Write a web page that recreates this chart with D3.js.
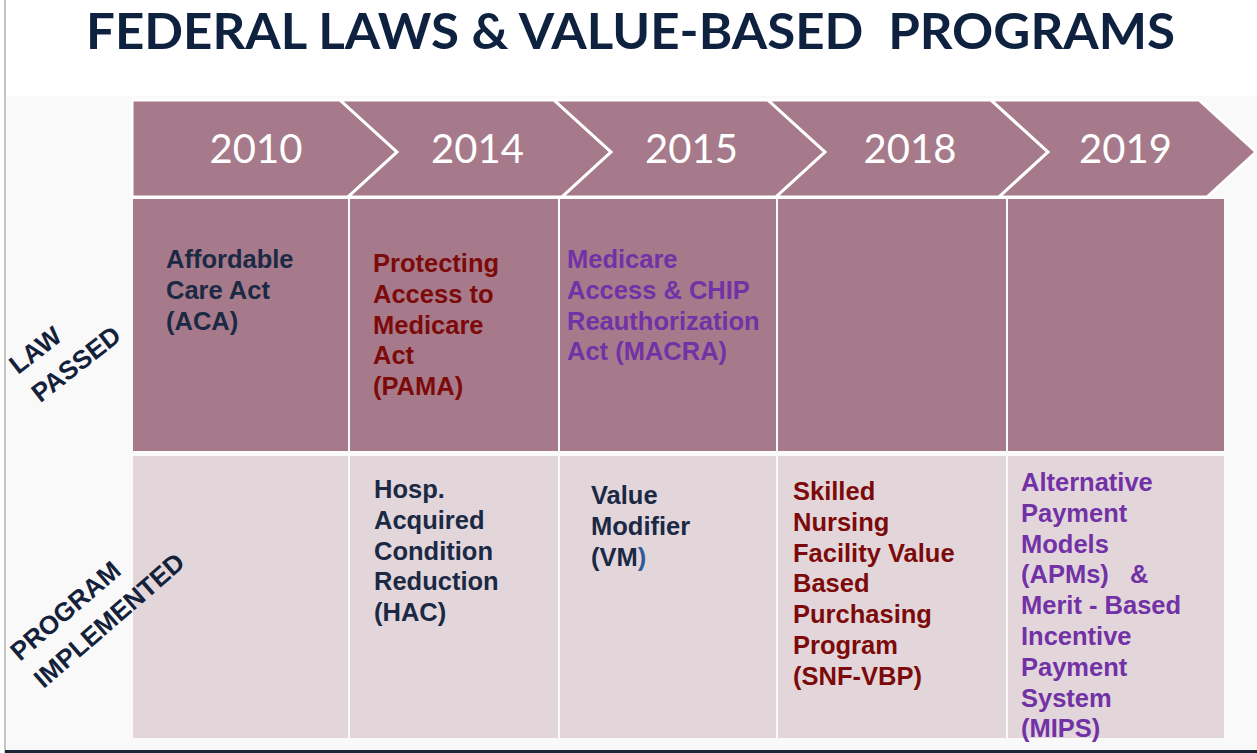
<!DOCTYPE html>
<html>
<head>
<meta charset="utf-8">
<script src="https://cdn.jsdelivr.net/npm/d3@7"></script>
<style>
    body { margin: 0; background: #fff; }
    svg { display: block; }
    .cell-text { font-family: "Liberation Sans", Arial, sans-serif; font-weight: bold; font-size: 25.5px; white-space: pre; }
    .side-label { font-family: "Liberation Sans", Arial, sans-serif; font-weight: bold; font-size: 26px; fill: #14213a; }
    .year { font-family: Lato, "Open Sans", sans-serif; font-size: 40px; fill: #fff; }
    .title { font-family: Lato, "Open Sans", sans-serif; font-weight: bold; font-size: 49.5px; fill: #0e2240; }
</style>
</head>
<body>
<svg id="chart" width="1257" height="753"></svg>
<script>

/*****************************************
*   Data
*****************************************/

const TITLE = 'FEDERAL LAWS & VALUE-BASED  PROGRAMS';

const years = ['2010', '2014', '2015', '2018', '2019'];
const rows = ['law', 'program'];
const rowLabels = [['LAW', 'PASSED'], ['PROGRAM', 'IMPLEMENTED']];

const lawsPassed = [
    ['Affordable', 'Care Act', '(ACA)'],
    ['Protecting', 'Access to', 'Medicare', 'Act', '(PAMA)'],
    ['Medicare', 'Access & CHIP', 'Reauthorization', 'Act (MACRA)'],
    [],
    []
];

const programsImplemented = [
    [],
    ['Hosp.', 'Acquired', 'Condition', 'Reduction', '(HAC)'],
    ['Value', 'Modifier', '(VM)'],
    ['Skilled', 'Nursing', 'Facility Value', 'Based', 'Purchasing', 'Program', '(SNF-VBP)'],
    ['Alternative', 'Payment', 'Models', '(APMs)   &', 'Merit - Based', 'Incentive', 'Payment', 'System', '(MIPS)']
];

/*****************************************
*   Layout / style constants
*****************************************/

const SVG_WIDTH = 1257;
const SVG_HEIGHT = 753;

// column edges (cells are not all the same width)
const COL_LEFT = [132, 349, 559, 777, 1007];
const COL_RIGHT = [349, 559, 777, 1007, 1225];
// where each chevron's right edge sits, and how far the point sticks out
const NOTCH = [344, 558, 772, 995, 1203];
const POINT = 53;
const SKEW = 4;

const BAND_TOP = 100;
const BAND_MID = 152;
const BAND_BOTTOM = 197;
const ROW_TOP = [199, 456];
const ROW_BOTTOM = [451, 738];

const LINE_HEIGHT = 30.8;
// per cell: left inset and first baseline offset from row top
const TEXT_INSET = { law: [34, 24, 8, 0, 0], program: [0, 25, 32, 16, 14] };
const TEXT_TOP = { law: [69, 73, 69, 0, 0], program: [0, 42, 48, 44, 35] };

const NAVY = '#1b2944';
const DARK_RED = '#7d0a0a';
const PURPLE = '#7232a6';
const TEXT_COLOR = {
    law: [NAVY, DARK_RED, PURPLE, NAVY, NAVY],
    program: [NAVY, NAVY, NAVY, DARK_RED, PURPLE]
};
const ROW_FILL = { law: '#a67a8a', program: '#e2d6db' };
const BAND_FILL = '#a67a8a';

// start of first line and tilt of the two row labels
const LABEL_ANCHOR = [[18, 375, -38], [20, 662, -41]];
const LABEL_LINE = 36;

/*****************************************
*   Scales
*****************************************/

var xLeft = d3.scaleOrdinal().domain(years).range(COL_LEFT);
var xRight = d3.scaleOrdinal().domain(years).range(COL_RIGHT);
var xNotch = d3.scaleOrdinal().domain(years).range(NOTCH);
var yTop = d3.scaleOrdinal().domain(rows).range(ROW_TOP);
var yBottom = d3.scaleOrdinal().domain(rows).range(ROW_BOTTOM);

var svg = d3.select('#chart');

/*****************************************
*   Background
*****************************************/

svg.append('rect')
    .attr('x', 7).attr('y', 96)
    .attr('width', SVG_WIDTH - 7).attr('height', 654)
    .attr('fill', '#f9f9f9');

svg.append('line')
    .attr('x1', 5).attr('x2', 5)
    .attr('y1', 0).attr('y2', SVG_HEIGHT)
    .attr('stroke', '#c4c4c4')
    .attr('stroke-width', 2);

svg.append('line')
    .attr('x1', 5).attr('x2', SVG_WIDTH)
    .attr('y1', 751.5).attr('y2', 751.5)
    .attr('stroke', '#1c2636')
    .attr('stroke-width', 3);

svg.append('text')
    .attr('class', 'title')
    .attr('x', 86)
    .attr('y', 49)
    .attr('textLength', 1089)
    .attr('lengthAdjust', 'spacingAndGlyphs')
    .style('white-space', 'pre')
    .text(TITLE);

/*****************************************
*   Chevron band with years
*****************************************/

function chevron_points(year, i) {
    var right = xNotch(year);
    var pts = [];
    if (i == 0) {
        pts.push([xLeft(year), BAND_TOP]);
    } else {
        var left = xNotch(years[i - 1]);
        pts.push([left - SKEW, BAND_TOP]);
    }
    pts.push([right - SKEW, BAND_TOP]);
    pts.push([right + POINT, BAND_MID]);
    pts.push([right + SKEW, BAND_BOTTOM]);
    if (i == 0) {
        pts.push([xLeft(year), BAND_BOTTOM]);
    } else {
        var left2 = xNotch(years[i - 1]);
        pts.push([left2 + SKEW, BAND_BOTTOM]);
        pts.push([left2 + POINT, BAND_MID]);
    }
    return pts.map(p => p.join(',')).join(' ');
}

svg.append('g')
    .selectAll('polygon')
    .data(years)
    .enter()
      .append('polygon')
      .attr('points', (d, i) => chevron_points(d, i))
      .attr('fill', BAND_FILL)
      .attr('stroke', '#fff')
      .attr('stroke-width', 3);

svg.append('g')
    .selectAll('text')
    .data(years)
    .enter()
      .append('text')
      .attr('class', 'year')
      .attr('x', (d, i) => i == 0 ? 256 : (xNotch(years[i - 1]) + xNotch(d) + POINT) / 2)
      .attr('y', 163)
      .attr('text-anchor', 'middle')
      .text(d => d);

/*****************************************
*   Table cells
*****************************************/

var cells = [];
rows.forEach(function(row) {
    var source = row == 'law' ? lawsPassed : programsImplemented;
    years.forEach(function(year, i) {
        cells.push({row: row, year: year, col: i, lines: source[i]});
    });
});

svg.append('g')
    .selectAll('rect')
    .data(cells)
    .enter()
      .append('rect')
      .attr('x', d => xLeft(d.year) + 1)
      .attr('y', d => yTop(d.row))
      .attr('width', d => xRight(d.year) - xLeft(d.year) - 2)
      .attr('height', d => yBottom(d.row) - yTop(d.row))
      .attr('fill', d => ROW_FILL[d.row]);

var cellText = svg.append('g')
    .selectAll('text')
    .data(cells.filter(d => d.lines.length > 0))
    .enter()
      .append('text')
      .attr('class', 'cell-text')
      .attr('fill', d => TEXT_COLOR[d.row][d.col]);

cellText.selectAll('tspan')
    .data(d => d.lines.map((line, j) => ({
        text: line,
        x: xLeft(d.year) + TEXT_INSET[d.row][d.col],
        y: yTop(d.row) + TEXT_TOP[d.row][d.col] + j * LINE_HEIGHT
    })))
    .enter()
      .append('tspan')
      .attr('x', d => d.x)
      .attr('y', d => d.y)
      .text(d => d.text);

// the closing bracket of (VM) is blue in the original
cellText.selectAll('tspan')
    .filter(d => d.text == '(VM)')
    .text('(VM')
    .append('tspan')
    .attr('fill', '#2f5b9c')
    .text(')');

/*****************************************
*   Row labels, tilted
*****************************************/

var labels = svg.append('g')
    .selectAll('text')
    .data(rowLabels)
    .enter()
      .append('text')
      .attr('class', 'side-label')
      .attr('transform', (d, i) => 'translate(' + LABEL_ANCHOR[i][0] + ',' + LABEL_ANCHOR[i][1] + ') rotate(' + LABEL_ANCHOR[i][2] + ')');

labels.selectAll('tspan')
    .data(d => d)
    .enter()
      .append('tspan')
      .attr('x', 0)
      .attr('y', (d, j) => j * LABEL_LINE)
      .text(d => d);

</script>
</body>
</html>
